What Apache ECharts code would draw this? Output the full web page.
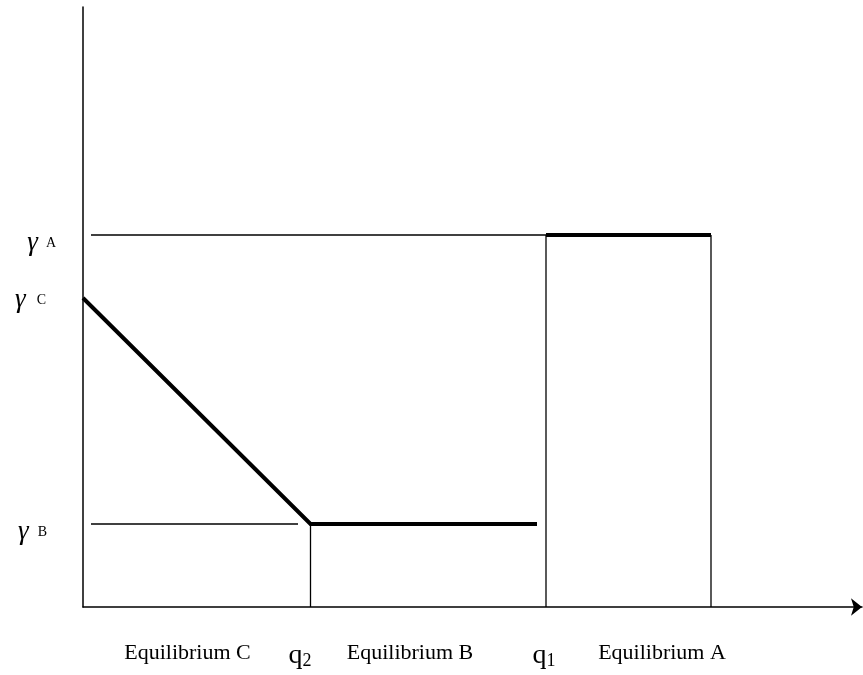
<!DOCTYPE html>
<html>
<head>
<meta charset="utf-8">
<title>Equilibria</title>
<script src="https://cdn.jsdelivr.net/npm/echarts@6/dist/echarts.min.js"></script>
<style>
  html, body { margin: 0; padding: 0; background: #fff; }
  #main { width: 863px; height: 675px; }
</style>
</head>
<body>
<div id="main"></div>
<script>
// units (1 unit ~ 1px), origin at the axes corner
var xMax = 779, yMax = 600;

// gamma levels and the two thresholds
var gammaA = 372, gammaB = 83, gammaC = 309;
var q2 = 227.5, q1 = 463, endA = 628, endB = 454;

var thinLines = [
    [[8, gammaA], [q1, gammaA]],
    [[8, gammaB], [215, gammaB]],
    [[q2, 0], [q2, gammaB]],
    [[q1, 0], [q1, gammaA]],
    [[endA, 0], [endA, gammaA]]
];
var thickLines = [
    [[0, gammaC], [q2, gammaB], [endB, gammaB]],
    [[q1, gammaA], [endA, gammaA]]
];

var xTickValues = [104.5, 217, 327, 461, 579];
var xTickLabels = ['Equilibrium C', 'q2', 'Equilibrium B', 'q1', 'Equilibrium A'];
var yTickValues = [75, 307, 364];
var yTickLabels = ['B', 'C', 'A'];

var serif = 'Liberation Serif';

function lineSeries(seg, width) {
    return {
        type: 'line',
        data: seg,
        symbol: 'none',
        silent: true,
        animation: false,
        lineStyle: { color: '#000', width: width, cap: 'butt', join: 'miter' }
    };
}

var series = [];
thinLines.forEach(function (s) { series.push(lineSeries(s, 1.3)); });
thickLines.forEach(function (s) { series.push(lineSeries(s, 4)); });

var myChart = echarts.init(document.getElementById('main'));
myChart.setOption({
    backgroundColor: '#fff',
    animation: false,
    grid: { left: 83, right: 1, top: 7, bottom: 68, containLabel: false, outerBoundsMode: 'none' },
    xAxis: {
        type: 'value',
        min: 0,
        max: xMax,
        splitLine: { show: false },
        axisTick: { show: false },
        axisLine: {
            lineStyle: { color: '#000', width: 1.5 },
            symbol: ['none', 'arrow'],
            symbolSize: [13, 11]
        },
        axisLabel: {
            customValues: xTickValues,
            margin: 31,
            color: '#000',
            formatter: function (v) {
                var t = xTickLabels[xTickValues.indexOf(v)];
                if (t === undefined) return '';
                if (t.charAt(0) === 'q') return '{q|q}{qs|' + t.slice(1) + '}';
                return '{e|' + t + '}';
            },
            rich: {
                e: { fontFamily: serif, fontSize: 22, color: '#000', lineHeight: 26, verticalAlign: 'bottom' },
                q: { fontFamily: serif, fontSize: 28, color: '#000', lineHeight: 32, verticalAlign: 'bottom' },
                qs: { fontFamily: serif, fontSize: 18, color: '#000', lineHeight: 20, verticalAlign: 'bottom' }
            }
        }
    },
    yAxis: {
        type: 'value',
        min: 0,
        max: yMax,
        splitLine: { show: false },
        axisTick: { show: false },
        axisLine: { lineStyle: { color: '#000', width: 1.5 } },
        axisLabel: {
            customValues: yTickValues,
            margin: 27,
            color: '#000',
            formatter: function (v) {
                var t = yTickLabels[yTickValues.indexOf(v)];
                if (t === undefined) return '';
                return '{g|\u03b3}{s' + t + '|' + t + '}';
            },
            rich: {
                g: { fontFamily: serif, fontStyle: 'italic', fontSize: 27, color: '#000' },
                sA: { fontFamily: serif, fontSize: 14, color: '#000', padding: [0, 0, 0, 8] },
                sB: { fontFamily: serif, fontSize: 14, color: '#000', padding: [0, 9, 0, 9] },
                sC: { fontFamily: serif, fontSize: 14, color: '#000', padding: [0, 10, 0, 11] }
            }
        }
    },
    series: series
});
</script>
</body>
</html>
